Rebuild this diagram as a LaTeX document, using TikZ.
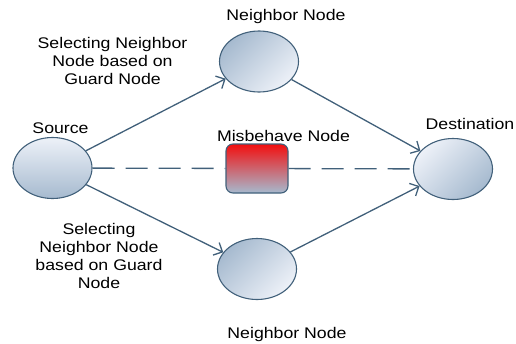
\documentclass[tikz,border=0pt]{standalone}
\usepackage{fontspec}
\newfontfamily\lblfont[FakeStretch=1.15]{Liberation Sans}
\usetikzlibrary{shapes.geometric,arrows.meta}
\definecolor{edgeblue}{HTML}{41607A}
\definecolor{palebl}{HTML}{EDF1F8}
\definecolor{duskbl}{HTML}{A6BACF}
\definecolor{alarm}{HTML}{F20F0F}
\tikzset{
  peer/.style={ellipse, draw=edgeblue, line width=1.1pt, minimum width=79pt, minimum height=61pt, inner sep=0pt},
  rogue/.style={rectangle, rounded corners=7pt, draw=edgeblue, line width=1.1pt, minimum width=62pt, minimum height=49pt, top color=alarm, bottom color=duskbl},
  lbl/.style={font=\lblfont\fontsize{15.4}{18}\selectfont, align=center, inner sep=0pt},
  hop/.style={draw=edgeblue, line width=1.3pt, -{Straight Barb[length=7pt,width=14pt]}},
  skip/.style={draw=edgeblue, line width=1.3pt, dash pattern=on 22pt off 11pt}
}
\begin{document}
\begin{tikzpicture}[x=1pt, y=-1pt]
  \useasboundingbox (0,0) rectangle (516,343);
  \node[peer, top color=palebl, bottom color=duskbl] (src) at (52.5,168) {};
  \node[peer, top color=duskbl, bottom color=palebl, shading angle=45] (nbtop) at (259,61.5) {};
  \node[peer, top color=duskbl, bottom color=palebl, shading angle=45] (nbbot) at (257,269) {};
  \node[peer, top color=palebl, bottom color=duskbl, shading angle=45] (dst) at (453,169) {};
  \node[rogue] (bad) at (257,168.5) {};

  \node[lbl, anchor=base] (srclbl) at (60.5,133) {Source};
  \node[lbl, anchor=base] (toplbl) at (286,20) {Neighbor Node};
  \node[lbl, anchor=base] (badlbl) at (283.5,141) {Misbehave Node};
  \node[lbl, anchor=base] (dstlbl) at (470,129) {Destination};
  \node[lbl, anchor=base] (botlbl) at (287,338) {Neighbor Node};
  \node[lbl, anchor=north] (upsel) at (112.5,37) {Selecting Neighbor\\Node based on\\Guard Node};
  \node[lbl, anchor=north] (lowsel) at (99,223) {Selecting\\Neighbor Node\\based on Guard\\Node};

  \draw[hop] (src) -- (nbtop);
  \draw[hop] (nbtop) -- (dst);
  \draw[hop] (src) -- (nbbot);
  \draw[hop] (nbbot) -- (dst);
  \draw[skip] (src) -- (bad);
  \draw[skip] (bad) -- (dst);
\end{tikzpicture}
\end{document}
